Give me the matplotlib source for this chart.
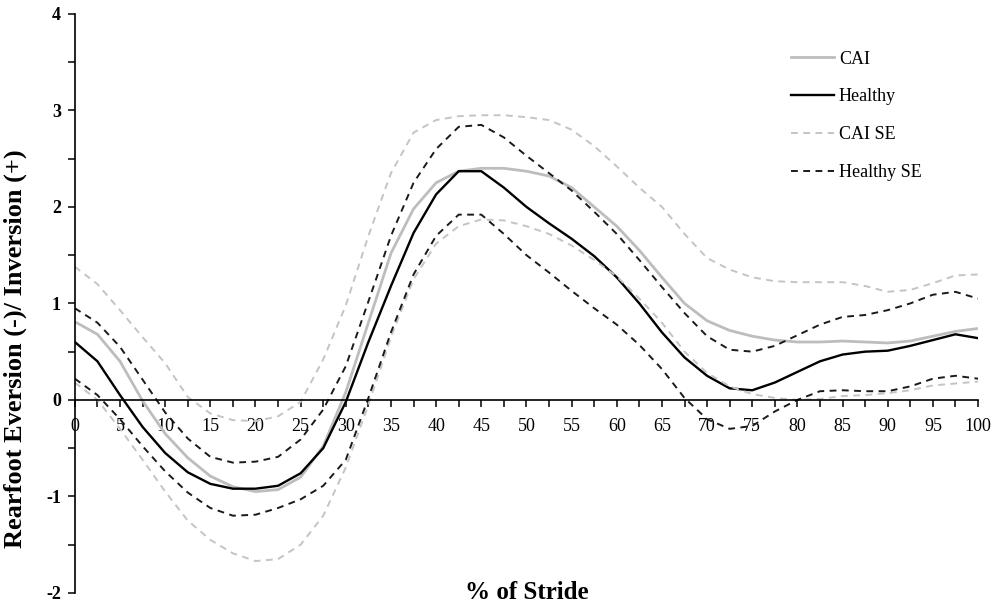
import numpy as np
import matplotlib.pyplot as plt
from matplotlib.ticker import MultipleLocator

plt.rcParams['font.family'] = ['Liberation Serif', 'DejaVu Serif']
plt.rcParams['axes.unicode_minus'] = False

# % of stride, every 2.5 %
stride = np.arange(0, 100.1, 2.5)

cai = [0.81, 0.68, 0.40, -0.01, -0.35, -0.60, -0.79, -0.90, -0.95, -0.93,
       -0.80, -0.48, 0.08, 0.80, 1.52, 1.98, 2.25, 2.37, 2.40, 2.40,
       2.37, 2.32, 2.20, 2.00, 1.80, 1.55, 1.27, 1.00, 0.82, 0.72,
       0.66, 0.62, 0.60, 0.60, 0.61, 0.60, 0.59, 0.61, 0.66, 0.71, 0.74]

healthy = [0.60, 0.40, 0.05, -0.28, -0.55, -0.75, -0.87, -0.92, -0.92, -0.89,
           -0.76, -0.50, -0.02, 0.60, 1.18, 1.73, 2.13, 2.37, 2.37, 2.20,
           2.00, 1.83, 1.67, 1.49, 1.27, 1.00, 0.70, 0.44, 0.25, 0.12,
           0.10, 0.18, 0.29, 0.40, 0.47, 0.50, 0.51, 0.56, 0.62, 0.68, 0.64]

cai_se_hi = [1.38, 1.20, 0.93, 0.65, 0.38, 0.03, -0.14, -0.21, -0.22, -0.17,
             -0.02, 0.42, 0.98, 1.70, 2.35, 2.77, 2.90, 2.94, 2.95, 2.95,
             2.93, 2.90, 2.80, 2.63, 2.42, 2.20, 2.00, 1.72, 1.47, 1.35,
             1.27, 1.23, 1.22, 1.22, 1.22, 1.18, 1.12, 1.14, 1.21, 1.29, 1.30]

cai_se_lo = [0.18, 0.00, -0.30, -0.62, -0.95, -1.25, -1.45, -1.59, -1.67, -1.65,
             -1.50, -1.20, -0.70, -0.05, 0.65, 1.25, 1.62, 1.80, 1.87, 1.86,
             1.80, 1.72, 1.60, 1.45, 1.28, 1.05, 0.80, 0.50, 0.28, 0.14,
             0.06, 0.02, 0.00, 0.01, 0.04, 0.05, 0.07, 0.10, 0.15, 0.17, 0.19]

healthy_se_hi = [0.95, 0.80, 0.55, 0.21, -0.13, -0.40, -0.59, -0.65, -0.64, -0.59,
                 -0.41, -0.10, 0.35, 1.02, 1.70, 2.25, 2.60, 2.83, 2.85, 2.72,
                 2.53, 2.35, 2.17, 1.95, 1.72, 1.45, 1.17, 0.90, 0.66, 0.52,
                 0.50, 0.56, 0.67, 0.78, 0.86, 0.88, 0.93, 1.00, 1.09, 1.12, 1.05]

healthy_se_lo = [0.22, 0.05, -0.20, -0.48, -0.74, -0.96, -1.12, -1.20, -1.19, -1.12,
                 -1.03, -0.89, -0.62, 0.02, 0.70, 1.30, 1.70, 1.92, 1.92, 1.72,
                 1.50, 1.32, 1.13, 0.95, 0.78, 0.57, 0.32, 0.02, -0.20, -0.30,
                 -0.27, -0.12, 0.00, 0.09, 0.10, 0.09, 0.09, 0.14, 0.22, 0.25, 0.22]

fig = plt.figure(figsize=(9.98, 6.05), dpi=100)
ax = fig.add_axes([0.075, 0.02, 0.905, 0.957])

ax.plot(stride, cai, color='#bdbdbd', lw=2.0, label='CAI')
ax.plot(stride, healthy, color='black', lw=1.7, label='Healthy')
ax.plot(stride, cai_se_hi, color='#c4c4c4', lw=1.4, dashes=(3.5, 2.8), label='CAI SE')
ax.plot(stride, healthy_se_hi, color='#1a1a1a', lw=1.4, dashes=(3.5, 2.8), label='Healthy SE')
ax.plot(stride, cai_se_lo, color='#c4c4c4', lw=1.4, dashes=(3.5, 2.8))
ax.plot(stride, healthy_se_lo, color='#1a1a1a', lw=1.4, dashes=(3.5, 2.8))

ax.set_xlim(0, 100)
ax.set_ylim(-2, 4)

# x axis drawn through zero
ax.spines['bottom'].set_position(('data', 0))
ax.spines['top'].set_visible(False)
ax.spines['right'].set_visible(False)
for s in ('left', 'bottom'):
    ax.spines[s].set_linewidth(1.2)

ax.xaxis.set_major_locator(MultipleLocator(5))
ax.xaxis.set_minor_locator(MultipleLocator(2.5))
ax.yaxis.set_major_locator(MultipleLocator(1))
ax.yaxis.set_minor_locator(MultipleLocator(0.5))
ax.tick_params(axis='x', which='both', direction='out', length=5, width=1.1)
ax.tick_params(axis='x', which='major', labelsize=13, pad=8)
ax.tick_params(axis='y', which='both', direction='out', length=5, width=1.1)
ax.tick_params(axis='y', which='major', labelsize=13, pad=5)
for lbl in ax.get_yticklabels():
    lbl.set_fontweight('bold')

fig.text(15 / 998, 1 - 349 / 605, 'Rearfoot Eversion (-)/ Inversion (+)',
         rotation=90, ha='center', va='center', fontsize=19, fontweight='bold')
ax.text(50, -2.0, '% of Stride', ha='center', va='center', fontsize=18,
        fontweight='bold')

ax.legend(loc='upper left', bbox_to_anchor=(0.783, 0.952), frameon=False,
          borderpad=0, fontsize=13, handlelength=2.4, handletextpad=0.25,
          labelspacing=1.15)

plt.savefig('out.png', dpi=100)
